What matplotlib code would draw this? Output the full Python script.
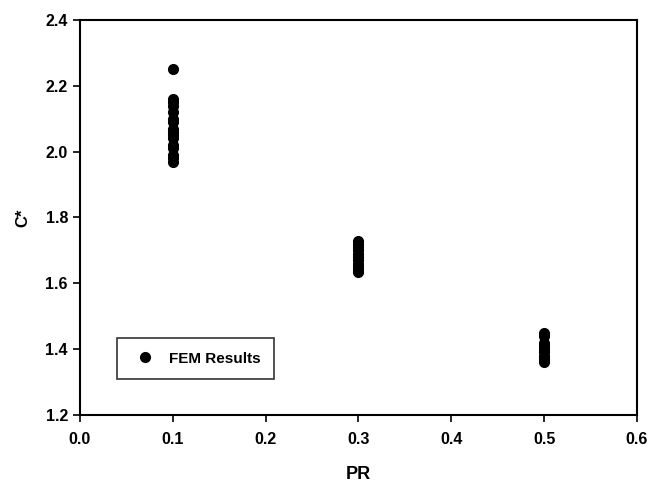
import numpy as np
import matplotlib.pyplot as plt

plt.rcParams['font.family'] = ['Liberation Sans', 'DejaVu Sans']
plt.rcParams['font.weight'] = 'bold'

# FEM results grouped by PR value
pr_01 = [2.25, 2.16, 2.15, 2.14, 2.12, 2.10, 2.09, 2.07, 2.06, 2.05,
         2.04, 2.02, 2.01, 1.99, 1.98, 1.97]
pr_03 = [1.73, 1.72, 1.71, 1.70, 1.69, 1.68, 1.67, 1.66, 1.65, 1.64, 1.635]
pr_05 = [1.45, 1.44, 1.42, 1.41, 1.40, 1.39, 1.38, 1.37, 1.36]

x = [0.1] * len(pr_01) + [0.3] * len(pr_03) + [0.5] * len(pr_05)
c_star = pr_01 + pr_03 + pr_05

fig = plt.figure(figsize=(6.54, 4.86), dpi=100)
ax = fig.add_axes([0.122, 0.146, 0.852, 0.813])

ax.plot(x, c_star, 'o', color='black', markersize=7, linestyle='none',
        label='FEM Results')

ax.set_xlim(0, 0.6)
ax.set_ylim(1.2, 2.4)
ax.set_xticks(np.arange(0, 0.61, 0.1))
ax.set_yticks(np.arange(1.2, 2.41, 0.2))
ax.set_xticklabels([f"{v:.1f}" for v in np.arange(0, 0.61, 0.1)])
ax.set_yticklabels([f"{v:.1f}" for v in np.arange(1.2, 2.41, 0.2)])
ax.tick_params(direction='out', length=5, width=1.2, labelsize=11.5)
ax.tick_params(axis='x', pad=7)
for s in ax.spines.values():
    s.set_linewidth(1.5)

ax.set_xlabel('PR', fontsize=13, fontweight='bold', labelpad=14)
ax.set_ylabel('C*', fontsize=12, fontweight='bold', labelpad=11)

leg = ax.legend(loc='lower left', bbox_to_anchor=(0.067, 0.09), fancybox=False,
                edgecolor='black', fontsize=11, handletextpad=0.7,
                handlelength=1.8, borderpad=0.9, borderaxespad=0)
leg.get_frame().set_linewidth(1.2)

fig.savefig('out.png', dpi=100)
